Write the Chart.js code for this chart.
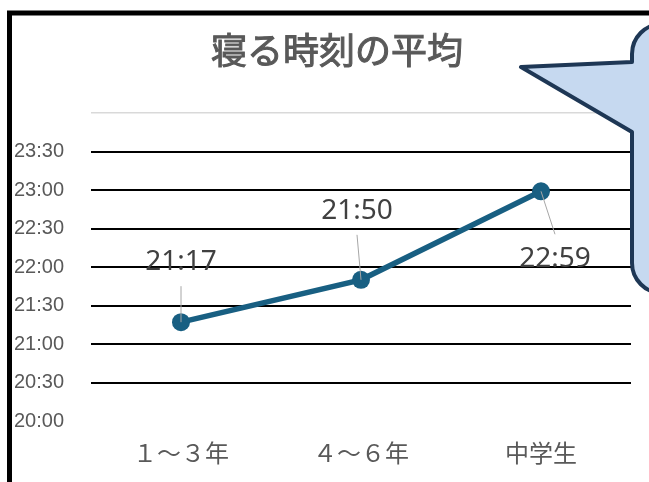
<!DOCTYPE html>
<html lang="ja">
<head>
<meta charset="UTF-8">
<title>寝る時刻の平均</title>
<script src="https://cdn.jsdelivr.net/npm/chart.js"></script>
<style>
  html, body { margin: 0; padding: 0; background: #fff; overflow: hidden; }
  .wrap { position: relative; width: 649px; height: 482px; }
</style>
</head>
<body>
<div class="wrap"><canvas id="bedtimeChart"></canvas></div>
<script>
const chartTitle = '寝る時刻の平均';
const categories = ['１〜３年', '４〜６年', '中学生'];
const bedtimes = ['21:17', '21:50', '22:59'];
const tickLabels = ['20:00', '20:30', '21:00', '21:30', '22:00', '22:30', '23:00', '23:30', ''];
const baseTime = '20:00';

function toMinutes(t) {
  const [h, m] = t.split(':').map(Number);
  return h * 60 + m;
}
// plotted as minutes after 20:00
const values = bedtimes.map(t => toMinutes(t) - toMinutes(baseTime));

// value label position relative to its point
const labelOffsets = [[0, -60], [-4, -69], [14, 68]];
const LINE_COLOR = '#185f82';

const valueLabels = {
  id: 'valueLabels',
  afterDatasetsDraw(chart) {
    const ctx = chart.ctx;
    const pts = chart.getDatasetMeta(0).data;
    ctx.save();
    pts.forEach((p, i) => {
      const lx = p.x + labelOffsets[i][0];
      const ly = p.y + labelOffsets[i][1];
      const above = ly < p.y;
      ctx.strokeStyle = '#a6a6a6';
      ctx.lineWidth = 1;
      ctx.beginPath();
      ctx.moveTo(lx, above ? ly + 24 : ly - 25);
      ctx.lineTo(p.x, p.y);
      ctx.stroke();
      ctx.font = '28px "Noto Sans"';
      ctx.fillStyle = '#404040';
      ctx.textAlign = 'center';
      ctx.textBaseline = 'middle';
      ctx.fillText(bedtimes[i], lx, ly);
    });
    ctx.restore();
  }
};

// title, outer frame and the speech bubble
const decor = {
  id: 'decor',
  afterDraw(chart) {
    const ctx = chart.ctx;
    ctx.save();
    ctx.font = '36px "Noto Sans CJK JP"';
    ctx.fillStyle = '#595959';
    ctx.strokeStyle = '#595959';
    ctx.lineWidth = 1;
    ctx.textAlign = 'center';
    ctx.textBaseline = 'middle';
    ctx.fillText(chartTitle, 337, 50);
    ctx.strokeText(chartTitle, 337, 50); // a touch heavier than regular

    ctx.strokeStyle = '#000';
    ctx.lineWidth = 5;
    ctx.beginPath();
    ctx.moveTo(9.5, 500);
    ctx.lineTo(9.5, 13);
    ctx.lineTo(700, 13);
    ctx.stroke();

    const left = 632, top = 24, bottom = 293, r = 30, right = 700;
    ctx.beginPath();
    ctx.moveTo(521, 67);
    ctx.lineTo(left, 62);
    ctx.lineTo(left, top + r);
    ctx.arcTo(left, top, left + r, top, r);
    ctx.lineTo(right, top);
    ctx.lineTo(right, bottom);
    ctx.lineTo(left + r, bottom);
    ctx.arcTo(left, bottom, left, bottom - r, r);
    ctx.lineTo(left, 132);
    ctx.closePath();
    ctx.fillStyle = '#c6d9f0';
    ctx.fill();
    ctx.lineJoin = 'round';
    ctx.lineWidth = 4;
    ctx.strokeStyle = '#1e3755';
    ctx.stroke();
    ctx.restore();
  }
};

new Chart(document.getElementById('bedtimeChart'), {
  type: 'line',
  data: {
    labels: categories,
    datasets: [{
      data: values,
      borderColor: LINE_COLOR,
      backgroundColor: LINE_COLOR,
      borderWidth: 5.5,
      pointRadius: 9,
      pointBorderWidth: 0,
      pointBackgroundColor: LINE_COLOR,
      tension: 0
    }]
  },
  options: {
    responsive: true,
    maintainAspectRatio: false,
    animation: false,
    layout: { padding: { left: 14, top: 113, right: 18, bottom: 0 } },
    plugins: {
      legend: { display: false },
      tooltip: { enabled: false }
    },
    scales: {
      x: {
        offset: true,
        grid: { display: false, drawTicks: false },
        border: { display: false },
        ticks: {
          padding: 17,
          color: '#595959',
          font: { family: '"Noto Sans CJK JP"', size: 24 }
        },
        afterFit(scale) { scale.height = 61; }
      },
      y: {
        min: 0,
        max: 240,
        border: { display: false },
        grid: {
          drawTicks: false,
          color: c => c.tick.value === 0 ? 'rgba(0,0,0,0)' : (c.tick.value === 240 ? '#d9d9d9' : '#000'),
          lineWidth: c => c.tick.value === 240 ? 1.5 : 2
        },
        ticks: {
          stepSize: 30,
          crossAlign: 'far',
          color: '#595959',
          font: { family: '"Liberation Sans"', size: 20 },
          callback: (v, i) => tickLabels[i]
        },
        afterFit(scale) { scale.width = 77; }
      }
    }
  },
  plugins: [valueLabels, decor]
});
</script>
</body>
</html>
